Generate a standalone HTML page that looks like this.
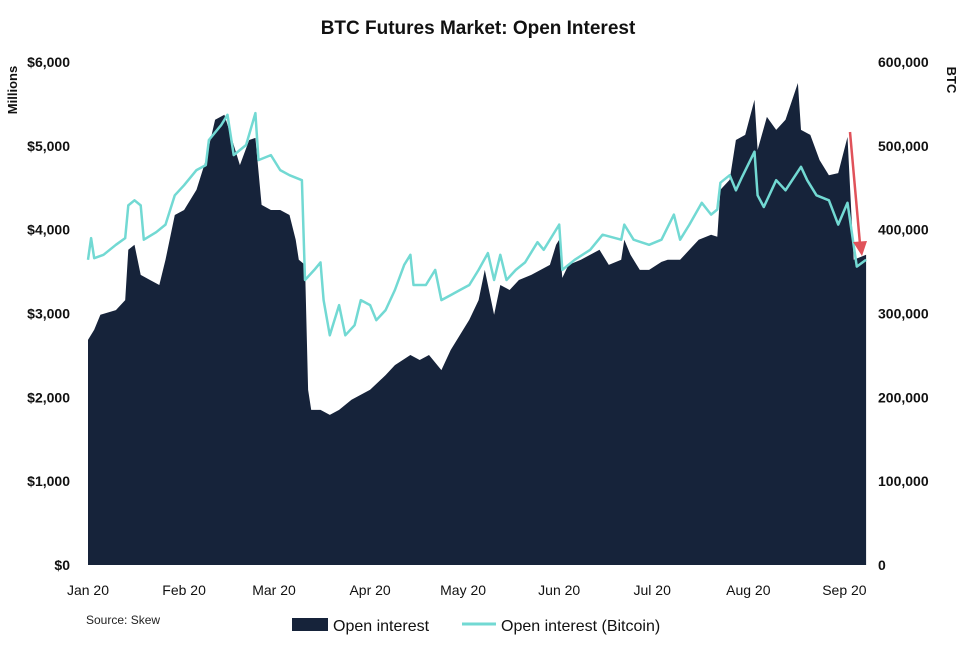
<!DOCTYPE html>
<html><head><meta charset="utf-8"><style>
body{margin:0;background:#fff;}
svg{display:block;font-family:"Liberation Sans",sans-serif;}
</style></head><body>
<svg id="chart" width="971" height="648" viewBox="0 0 971 648">
<text x="478" y="34" text-anchor="middle" font-size="19" font-weight="bold" fill="#111">BTC Futures Market: Open Interest</text>
<text transform="translate(17,90) rotate(-90)" text-anchor="middle" font-size="13" font-weight="bold" fill="#111">Millions</text>
<text transform="translate(947,80) rotate(90)" text-anchor="middle" font-size="13" font-weight="bold" fill="#111">BTC</text>
<g id="plot"></g>
<g id="axes"></g>
<text x="86" y="624" font-size="12" fill="#222">Source: Skew</text>
<g>
<rect x="292" y="618" width="36" height="13" fill="#16233a"></rect>
<text x="333" y="631" font-size="16" fill="#111">Open interest</text>
<line x1="462" y1="624" x2="496" y2="624" stroke="#72d9d3" stroke-width="3"></line>
<text x="501" y="631" font-size="16" fill="#111">Open interest (Bitcoin)</text>
</g>
</svg>
<script>
const oiDays=[0,2,4,9,12,13,15,17,20,23,25,28,31,35,38,41,44,46,49,52,54,56,59,62,65,67,68,70,71,72,75,78,81,85,88,91,96,99,104,107,110,114,117,120,123,126,128,131,133,136,139,143,146,149,151,152,153,155,159,162,165,168,172,173,175,178,181,185,187,191,194,197,201,203,204,207,209,212,215,216,219,222,225,229,230,233,236,239,242,245,247,251];
const oiValues=[2685,2805,2985,3040,3160,3760,3820,3460,3400,3340,3640,4175,4235,4475,4830,5310,5370,5130,4770,5070,5095,4295,4235,4235,4175,3880,3640,3580,2090,1850,1850,1790,1850,1970,2030,2090,2265,2385,2505,2445,2505,2325,2565,2745,2925,3160,3520,2985,3340,3280,3400,3460,3520,3580,3820,3880,3425,3580,3640,3700,3760,3580,3640,3880,3700,3520,3520,3615,3640,3640,3760,3880,3940,3915,4475,4595,5070,5130,5550,4950,5345,5190,5310,5750,5190,5130,4830,4650,4675,5105,3640,3700];
const btcDays=[0,1,2,5,9,12,13,15,17,18,22,25,28,31,35,38,39,43,45,47,51,54,55,59,62,65,69,70,73,75,76,78,81,83,86,88,91,93,96,99,102,104,105,109,112,114,117,120,123,126,129,131,133,135,138,141,145,147,152,153,157,162,166,172,173,176,181,185,189,191,194,198,201,203,204,207,209,211,215,216,218,222,225,230,232,235,239,242,245,248,251];
const btcValues=[364,390,366,370,382,390,429,435,429,388,397,406,441,453,471,477,507,525,537,489,501,539,483,489,471,465,459,340,352,361,316,274,310,274,286,316,310,292,304,328,358,370,334,334,352,316,322,328,334,352,372,340,370,340,352,361,385,376,406,352,364,376,394,388,406,388,382,388,418,388,406,432,418,424,456,465,447,463,493,441,427,459,447,475,459,441,435,406,432,356,364];
const leftTicks=["$0","$1,000","$2,000","$3,000","$4,000","$5,000","$6,000"];
const rightTicks=["0","100,000","200,000","300,000","400,000","500,000","600,000"];
const monthLabels=["Jan 20","Feb 20","Mar 20","Apr 20","May 20","Jun 20","Jul 20","Aug 20","Sep 20"];
const monthDays=[0,31,60,91,121,152,182,213,244];

const NS="http://www.w3.org/2000/svg";
const X0=88,PX=3.1,Y0=565,Y1=62;
const xs=d=>X0+d*PX;
const yL=v=>Y0-(v/6000)*(Y0-Y1);
const yR=v=>Y0-(v/600)*(Y0-Y1);
const plot=document.getElementById('plot'),axes=document.getElementById('axes');
function mk(tag,attrs,parent){const e=document.createElementNS(NS,tag);for(const k in attrs)e.setAttribute(k,attrs[k]);parent.appendChild(e);return e;}

let d="M"+xs(oiDays[0])+","+Y0;
oiDays.forEach((dd,i)=>{d+=" L"+xs(dd).toFixed(1)+","+yL(oiValues[i]).toFixed(1);});
d+=" L"+xs(oiDays[oiDays.length-1])+","+Y0+" Z";
const area=mk('path',{d:d,fill:'#16233a'},plot);



let p="";
btcDays.forEach((dd,i)=>{p+=(i?" L":"M")+xs(dd).toFixed(1)+","+yR(btcValues[i]).toFixed(1);});
const line=mk('path',{d:p,fill:'none',stroke:'#72d9d3','stroke-width':2.5,'stroke-linejoin':'round'},plot);



const arr=mk('g',{},plot);


mk('line',{x1:850,y1:132,x2:860,y2:244,stroke:'#e0525a','stroke-width':2.5},arr);
mk('polygon',{points:'853,242 867,241 862,256',fill:'#e0525a'},arr);

leftTicks.forEach((t,i)=>{
  const e=mk('text',{x:70,y:yL(i*1000)+5,'text-anchor':'end','font-size':14,'font-weight':'bold',fill:'#111'},axes);
  e.textContent=t;
  
  
});
rightTicks.forEach((t,i)=>{
  const e=mk('text',{x:878,y:yR(i*100)+5,'font-size':14,'font-weight':'bold',fill:'#111'},axes);
  e.textContent=t;
  
  
});
monthLabels.forEach((t,i)=>{
  const e=mk('text',{x:xs(monthDays[i]),y:595,'text-anchor':'middle','font-size':14,fill:'#111'},axes);
  e.textContent=t;
  
  
});
</script>
</body></html>
